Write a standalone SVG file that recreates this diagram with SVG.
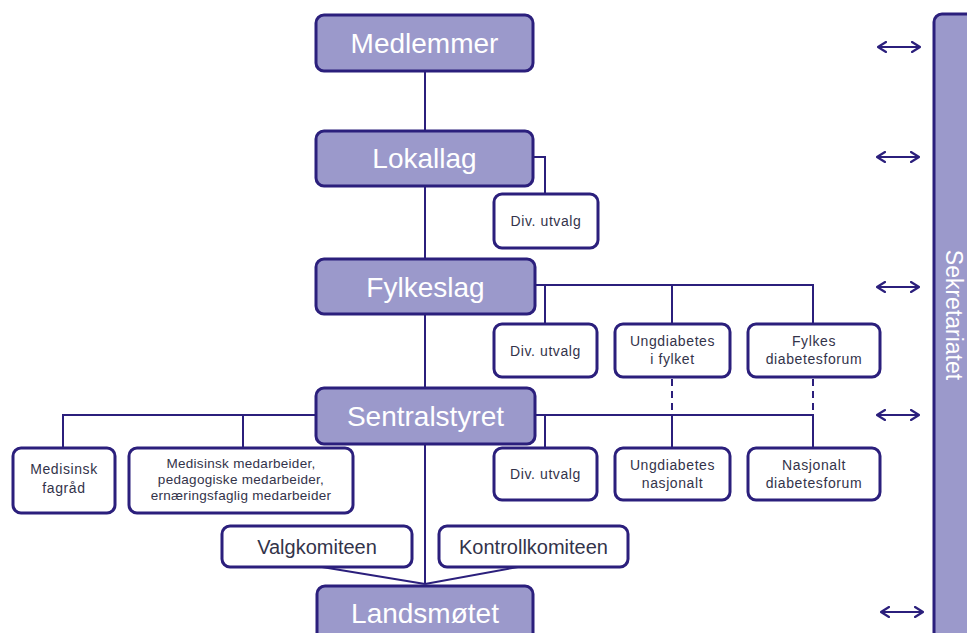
<svg xmlns="http://www.w3.org/2000/svg" width="967" height="633" viewBox="0 0 967 633">
<style>
.big{fill:#9b99cb;stroke:#2b1f7c;stroke-width:3}
.small{fill:#ffffff;stroke:#2b1f7c;stroke-width:3}
.bt{font-family:"Liberation Sans",Arial,sans-serif;font-size:28px;fill:#ffffff;text-anchor:middle}
.st{font-family:"Liberation Sans",Arial,sans-serif;font-size:14px;letter-spacing:0.6px;fill:#33334a;text-anchor:middle}
.mt{font-family:"Liberation Sans",Arial,sans-serif;font-size:20px;fill:#33334a;text-anchor:middle}
.ln{fill:none;stroke:#2b1f7c;stroke-width:2}
.dash{fill:none;stroke:#2b1f7c;stroke-width:2;stroke-dasharray:7,5}
.arr{fill:none;stroke:#2b1f7c;stroke-width:2;marker-start:url(#ah);marker-end:url(#ah)}
</style>
<defs>
<marker id="ah" viewBox="0 0 10 12" refX="9" refY="6" markerWidth="10" markerHeight="12" orient="auto-start-reverse" markerUnits="userSpaceOnUse">
<path d="M1,1 L9,6 L1,11" fill="none" stroke="#2b1f7c" stroke-width="2.2" stroke-linecap="round" stroke-linejoin="round"/>
</marker>
</defs>
<rect width="967" height="633" fill="#ffffff"/>
<g id="connectors">
<line class="ln" x1="425" y1="71" x2="425" y2="131"/>
<line class="ln" x1="425" y1="186" x2="425" y2="259"/>
<line class="ln" x1="425" y1="314" x2="425" y2="388"/>
<line class="ln" x1="425" y1="444" x2="425" y2="584"/>
<polyline class="ln" points="533,157 545,157 545,194"/>
<polyline class="ln" points="535,285 813,285 813,324"/>
<line class="ln" x1="545" y1="285" x2="545" y2="324"/>
<line class="ln" x1="672" y1="285" x2="672" y2="324"/>
<polyline class="ln" points="316,415 63,415 63,448"/>
<line class="ln" x1="243" y1="415" x2="243" y2="448"/>
<polyline class="ln" points="535,415 813,415 813,448"/>
<line class="ln" x1="545" y1="415" x2="545" y2="448"/>
<line class="ln" x1="672" y1="415" x2="672" y2="448"/>
<line class="dash" x1="672" y1="379" x2="672" y2="415"/>
<line class="dash" x1="813" y1="379" x2="813" y2="415"/>
<line class="ln" x1="322" y1="567" x2="425" y2="584"/>
<line class="ln" x1="518" y1="567" x2="425" y2="584"/>
<line class="arr" x1="878" y1="47" x2="920" y2="47"/>
<line class="arr" x1="877" y1="157" x2="919" y2="157"/>
<line class="arr" x1="877" y1="287" x2="919" y2="287"/>
<line class="arr" x1="877" y1="415" x2="919" y2="415"/>
<line class="arr" x1="881" y1="612" x2="923" y2="612"/>
</g>
<g id="medlemmer"><rect class="big" x="316" y="15" width="217" height="56" rx="8"/><text class="bt" x="424.5" y="53">Medlemmer</text></g>
<g id="lokallag"><rect class="big" x="316" y="131" width="217" height="55" rx="8"/><text class="bt" x="424.5" y="168">Lokallag</text></g>
<g id="divutvalg1"><rect class="small" x="494" y="194" width="104" height="54" rx="8"/><text class="st" x="546" y="226">Div. utvalg</text></g>
<g id="fylkeslag"><rect class="big" x="316" y="259" width="219" height="55" rx="8"/><text class="bt" x="425.5" y="297">Fylkeslag</text></g>
<g id="divutvalg2"><rect class="small" x="494" y="324" width="103" height="53" rx="8"/><text class="st" x="545.5" y="356">Div. utvalg</text></g>
<g id="ungdiabetes-fylket"><rect class="small" x="615" y="324" width="115" height="53" rx="8"/><text class="st" x="672.5" y="346">Ungdiabetes</text><text class="st" x="672.5" y="364">i fylket</text></g>
<g id="fylkes-diabetesforum"><rect class="small" x="748" y="324" width="132" height="53" rx="8"/><text class="st" x="814" y="346">Fylkes</text><text class="st" x="814" y="364">diabetesforum</text></g>
<g id="sentralstyret"><rect class="big" x="316" y="388" width="219" height="56" rx="8"/><text class="bt" x="425.5" y="426">Sentralstyret</text></g>
<g id="medisinsk-fagraad"><rect class="small" x="13" y="448" width="102" height="65" rx="8"/><text class="st" x="64" y="474">Medisinsk</text><text class="st" x="64" y="493">fagråd</text></g>
<g id="medarbeidere"><rect class="small" x="129" y="448" width="224" height="65" rx="8"/><text class="st" x="241" y="468" style="font-size:13.5px;letter-spacing:0.3px">Medisinsk medarbeider,</text><text class="st" x="241" y="484" style="font-size:13.5px;letter-spacing:0.3px">pedagogiske medarbeider,</text><text class="st" x="241" y="500" style="font-size:13.5px;letter-spacing:0.3px">ernæringsfaglig medarbeider</text></g>
<g id="divutvalg3"><rect class="small" x="494" y="448" width="103" height="52" rx="8"/><text class="st" x="545.5" y="479">Div. utvalg</text></g>
<g id="ungdiabetes-nasjonalt"><rect class="small" x="615" y="448" width="115" height="52" rx="8"/><text class="st" x="672.5" y="470">Ungdiabetes</text><text class="st" x="672.5" y="488">nasjonalt</text></g>
<g id="nasjonalt-diabetesforum"><rect class="small" x="748" y="448" width="132" height="52" rx="8"/><text class="st" x="814" y="470">Nasjonalt</text><text class="st" x="814" y="488">diabetesforum</text></g>
<g id="valgkomiteen"><rect class="small" x="222" y="526" width="190" height="41" rx="8"/><text class="mt" x="317" y="554">Valgkomiteen</text></g>
<g id="kontrollkomiteen"><rect class="small" x="439" y="526" width="189" height="41" rx="8"/><text class="mt" x="533.5" y="554">Kontrollkomiteen</text></g>
<g id="landsmotet"><rect class="big" x="317" y="586" width="216" height="60" rx="8"/><text class="bt" x="425" y="623">Landsmøtet</text></g>
<g id="sekretariatet"><rect class="big" x="934" y="14" width="45" height="640" rx="8"/><text class="bt" style="font-size:23px" transform="translate(946,315) rotate(90)" x="0" y="0">Sekretariatet</text></g>
</svg>
